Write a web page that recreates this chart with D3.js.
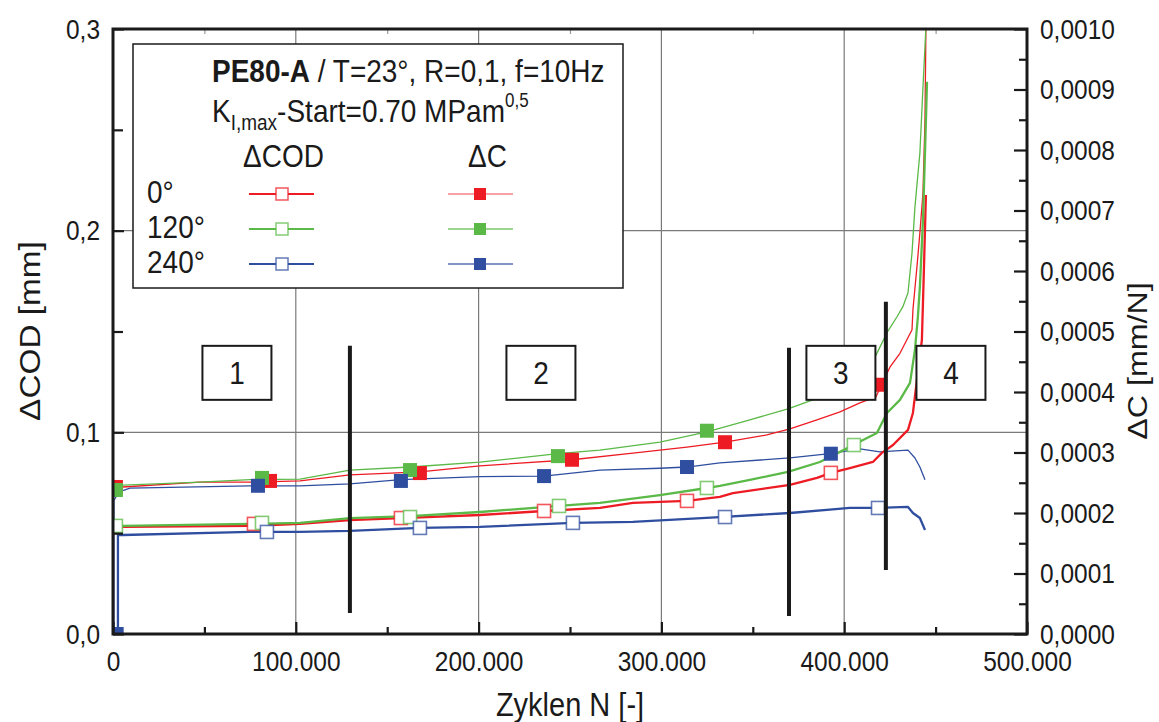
<!DOCTYPE html>
<html>
<head>
<meta charset="utf-8">
<script src="https://cdn.jsdelivr.net/npm/d3@7"></script>
<style>
  html, body { margin: 0; padding: 0; background: #ffffff; }
  svg { display: block; font-family: "Liberation Sans", Arial, Helvetica, sans-serif; }
</style>
</head>
<body>
<svg id="chart" width="1159" height="722"></svg>
<script>
// ---- measured curves: [cycles N, value] ----
// ΔCOD in mm (left axis)
const codRed = [
  [1600, 0.0526], [5500, 0.0531], [74900, 0.0536], [102300, 0.0546], [129600, 0.0565],
  [157500, 0.0575], [200700, 0.0590], [235800, 0.0610], [266400, 0.0625], [284400, 0.0650],
  [314000, 0.0660], [332000, 0.0680], [339100, 0.0699], [370300, 0.0739], [385100, 0.0774],
  [392700, 0.0799], [403100, 0.0823], [415700, 0.0853], [420600, 0.0898], [426700, 0.0937],
  [434900, 0.1012], [437600, 0.1096], [439800, 0.1260], [442500, 0.1458], [443600, 0.1805],
  [444700, 0.2177]
];
const codGreen = [
  [1600, 0.0531], [5500, 0.0536], [74900, 0.0546], [102300, 0.0551], [129600, 0.0575],
  [162500, 0.0585], [200700, 0.0605], [244000, 0.0635], [266400, 0.0650], [299200, 0.0689],
  [324900, 0.0724], [332000, 0.0734], [348400, 0.0764], [369200, 0.0804], [386700, 0.0853],
  [403100, 0.0928], [410300, 0.0962], [417900, 0.0997], [423400, 0.1096], [430500, 0.1161],
  [436000, 0.1245], [438700, 0.1409], [440300, 0.1572], [441400, 0.1721], [443100, 0.2053],
  [444200, 0.2386], [445300, 0.2738]
];
const codBlue = [
  [2700, 0.0], [2700, 0.0491], [5500, 0.0491], [74900, 0.0506], [102300, 0.0506],
  [129600, 0.0511], [167900, 0.0526], [200700, 0.0531], [251600, 0.0551], [284400, 0.0556],
  [332000, 0.0580], [370300, 0.0600], [403100, 0.0625], [418500, 0.0625], [434900, 0.0630],
  [437600, 0.0600], [441400, 0.0575], [444200, 0.0516]
];
// ΔC in mm/N (right axis)
const cRed = [
  [1600, 0.000243], [5500, 0.000243], [47600, 0.000251], [74900, 0.000251], [102300, 0.000253],
  [129600, 0.000263], [167900, 0.000268], [200700, 0.000278], [251100, 0.000288], [284400, 0.000299],
  [314000, 0.000309], [334800, 0.000317], [357700, 0.000329], [370300, 0.000339], [385100, 0.000354],
  [397700, 0.000367], [408600, 0.000382], [417400, 0.000392], [425000, 0.000441], [430500, 0.000464],
  [437100, 0.000503], [437600, 0.000536], [439800, 0.000607], [441400, 0.000663], [443100, 0.000729],
  [444200, 0.000850], [444700, 0.001003]
];
const cGreen = [
  [1600, 0.000241], [5500, 0.000246], [47600, 0.000251], [74900, 0.000255], [102300, 0.000256],
  [129600, 0.000271], [162500, 0.000276], [200700, 0.000284], [243400, 0.000298], [266400, 0.000304],
  [299200, 0.000317], [324900, 0.000334], [348400, 0.000354], [369200, 0.000372], [382900, 0.000387],
  [417400, 0.000461], [423400, 0.000498], [428800, 0.000524], [432100, 0.000541], [434900, 0.000564],
  [437100, 0.000630], [438700, 0.000706], [441400, 0.000795], [443100, 0.000904], [444700, 0.001003]
];
const cBlue = [
  [500, 0.0], [500, 0.000221], [3300, 0.000235], [9300, 0.000241], [74900, 0.000245],
  [102300, 0.000245], [129600, 0.000248], [157500, 0.000255], [200700, 0.000260], [235800, 0.000261],
  [266400, 0.000271], [299200, 0.000274], [314000, 0.000276], [332000, 0.000283], [370300, 0.000291],
  [392200, 0.000298], [408600, 0.000306], [419500, 0.000301], [423400, 0.000302], [434900, 0.000304],
  [438700, 0.000291], [441400, 0.000276], [444200, 0.000255]
];

// ---- symbol positions along each curve ----
const codRedMarks   = [[77100, 0.0546], [157500, 0.0575], [235800, 0.0610], [314000, 0.0660], [392700, 0.0799]];
const codGreenMarks = [[1600, 0.0536], [81500, 0.0551], [162500, 0.0580], [244000, 0.0635], [324900, 0.0724], [405300, 0.0937]];
const codBlueMarks  = [[84200, 0.0506], [167900, 0.0526], [251600, 0.0551], [334800, 0.0580], [418500, 0.0625]];
const cRedMarks     = [[1600, 0.000243], [85900, 0.000253], [167900, 0.000266], [251100, 0.000288], [334800, 0.000317], [419500, 0.000412]];
const cGreenMarks   = [[1600, 0.000238], [81500, 0.000258], [162500, 0.000271], [243400, 0.000294], [324900, 0.000336], [405300, 0.000436]];
const cBlueMarks    = [[2000, 0.0], [79300, 0.000245], [157500, 0.000253], [235800, 0.000261], [314000, 0.000276], [392700, 0.000298]];

// ---- stage separators and stage labels ----
const stageLines  = [[129600, 0.0104, 0.1429], [369800, 0.0089, 0.1419], [422800, 0.0317, 0.1647]];
const stageLabels = ["1", "2", "3", "4"];
const stageBoxN   = [67800, 234100, 398200, 458400];
const stageBoxCOD = 0.1295;

// ---- axes ----
const xTicks      = [0, 100000, 200000, 300000, 400000, 500000];
const xMinorTicks = [50000, 150000, 250000, 350000, 450000];
const yLTicks     = [0, 0.1, 0.2, 0.3];
const yLMinor     = [0.05, 0.15, 0.25];
const yRTicks     = [0, 0.0001, 0.0002, 0.0003, 0.0004, 0.0005, 0.0006, 0.0007, 0.0008, 0.0009, 0.001];
const yRMinor     = [0.00005, 0.00015, 0.00025, 0.00035, 0.00045, 0.00055, 0.00065, 0.00075, 0.00085, 0.00095];

const legendAngles = ["0°", "120°", "240°"];
const seriesColors = ["#ed1c24", "#5bb947", "#2f4e9f"];

// ---- layout ----
const W = 1159, H = 722;
const plot = { left: 113, right: 1027, top: 29, bottom: 634 };
const TALL = 1.15;            // glyphs are drawn slightly taller than wide
const INK = "#1a1a1a";

const svg = d3.select("#chart");
const x  = d3.scaleLinear().domain([0, 500000]).range([plot.left, plot.right]);
const yL = d3.scaleLinear().domain([0, 0.3]).range([plot.bottom, plot.top]);
const yR = d3.scaleLinear().domain([0, 0.001]).range([plot.bottom, plot.top]);

const loc = d3.formatLocale({ decimal: ",", thousands: ".", grouping: [3], currency: ["", ""] });

// horizontal text anchored at a baseline point, stretched vertically
function label(g, str, px, py, size, anchor) {
  return g.append("text").text(str)
    .attr("transform", `translate(${px},${py}) scale(1,${TALL})`)
    .attr("text-anchor", anchor || "start")
    .attr("font-size", size).attr("fill", INK);
}

svg.append("rect").attr("width", W).attr("height", H).attr("fill", "#fff");

svg.append("defs").append("clipPath").attr("id", "plotClip")
  .append("rect")
  .attr("x", plot.left).attr("y", plot.top)
  .attr("width", plot.right - plot.left).attr("height", plot.bottom - plot.top);

// grid
const grid = svg.append("g").attr("stroke", "#7a7a7a").attr("stroke-width", 1.2);
grid.selectAll("line.gx").data(xTicks.slice(1, -1)).join("line")
  .attr("x1", d => x(d)).attr("x2", d => x(d))
  .attr("y1", plot.top).attr("y2", plot.bottom);
grid.selectAll("line.gy").data([0.1, 0.2]).join("line")
  .attr("x1", plot.left).attr("x2", plot.right)
  .attr("y1", d => yL(d)).attr("y2", d => yL(d));

// curves
const curves = svg.append("g").attr("clip-path", "url(#plotClip)").attr("fill", "none")
  .attr("stroke-linejoin", "round");
const lineL = d3.line().x(d => x(d[0])).y(d => yL(d[1]));
const lineR = d3.line().x(d => x(d[0])).y(d => yR(d[1]));

[cRed, cGreen, cBlue].forEach((s, i) => {
  curves.append("path").attr("d", lineR(s)).attr("stroke", seriesColors[i]).attr("stroke-width", 1.3);
});
[codRed, codGreen, codBlue].forEach((s, i) => {
  curves.append("path").attr("d", lineL(s)).attr("stroke", seriesColors[i]).attr("stroke-width", 2.3);
});

// symbols
const sym = svg.append("g").attr("clip-path", "url(#plotClip)");
function hollow(g, data, scaleY, color) {
  g.selectAll(null).data(data).join("rect")
    .attr("x", d => x(d[0]) - 6.5).attr("y", d => scaleY(d[1]) - 6.5)
    .attr("width", 13).attr("height", 13)
    .attr("fill", "#fff").attr("stroke", color).attr("stroke-opacity", 0.75).attr("stroke-width", 1.6);
}
function filled(g, data, scaleY, color) {
  g.selectAll(null).data(data).join("rect")
    .attr("x", d => x(d[0]) - 7).attr("y", d => scaleY(d[1]) - 7)
    .attr("width", 14).attr("height", 14)
    .attr("fill", color);
}
hollow(sym.append("g"), codRedMarks, yL, seriesColors[0]);
hollow(sym.append("g"), codGreenMarks, yL, seriesColors[1]);
hollow(sym.append("g"), codBlueMarks, yL, seriesColors[2]);
filled(sym.append("g"), cRedMarks, yR, seriesColors[0]);
filled(sym.append("g"), cGreenMarks, yR, seriesColors[1]);
filled(sym.append("g"), cBlueMarks, yR, seriesColors[2]);

// stage separators
svg.append("g").selectAll("line").data(stageLines).join("line")
  .attr("x1", d => x(d[0])).attr("x2", d => x(d[0]))
  .attr("y1", d => yL(d[1])).attr("y2", d => yL(d[2]))
  .attr("stroke", INK).attr("stroke-width", 4);

// stage labels in boxes
const stg = svg.append("g").selectAll("g").data(stageLabels).join("g")
  .attr("transform", (d, i) => `translate(${x(stageBoxN[i])},${yL(stageBoxCOD)})`);
stg.append("rect").attr("x", -34.5).attr("y", -27).attr("width", 69).attr("height", 54)
  .attr("fill", "#fff").attr("stroke", INK).attr("stroke-width", 2);
stg.append("text").text(d => d).attr("text-anchor", "middle").attr("dy", "0.36em")
  .attr("transform", `scale(1,${TALL})`)
  .attr("font-size", 28).attr("fill", INK);

// axes
function styleAxis(g) {
  g.select(".domain").remove();
  g.selectAll(".tick line").attr("stroke", INK).attr("stroke-width", 2.2);
  g.selectAll(".tick text").attr("fill", INK).attr("font-size", 24.5)
    .attr("font-family", "'Liberation Sans', Arial, sans-serif")
    .attr("transform", `scale(1,${TALL})`);
}
svg.append("g").attr("transform", `translate(${plot.left},0)`)
  .call(d3.axisLeft(yL).tickValues(yLTicks).tickSize(-11).tickPadding(13).tickFormat(loc.format(".1f")))
  .call(styleAxis);
svg.append("g").attr("transform", `translate(${plot.left},0)`)
  .call(d3.axisLeft(yL).tickValues(yLMinor).tickSize(-10).tickFormat(""))
  .call(styleAxis);
svg.append("g").attr("transform", `translate(${plot.right},0)`)
  .call(d3.axisRight(yR).tickValues(yRTicks).tickSize(-13).tickPadding(13).tickFormat(loc.format(".4f")))
  .call(styleAxis);
svg.append("g").attr("transform", `translate(${plot.right},0)`)
  .call(d3.axisRight(yR).tickValues(yRMinor).tickSize(-8).tickFormat(""))
  .call(styleAxis);
svg.append("g").attr("transform", `translate(0,${plot.bottom})`)
  .call(d3.axisBottom(x).tickValues(xTicks).tickSize(-12).tickPadding(15).tickFormat(loc.format(",d")))
  .call(styleAxis);
svg.append("g").attr("transform", `translate(0,${plot.bottom})`)
  .call(d3.axisBottom(x).tickValues(xMinorTicks).tickSize(-7).tickFormat(""))
  .call(styleAxis);
svg.append("g").attr("transform", `translate(0,${plot.top})`)
  .call(d3.axisTop(x).tickValues(xMinorTicks).tickSize(-5).tickFormat(""))
  .call(g => { g.select(".domain").remove(); g.selectAll(".tick line").attr("stroke", "#999").attr("stroke-width", 1.2); });

// frame
svg.append("rect")
  .attr("x", plot.left).attr("y", plot.top)
  .attr("width", plot.right - plot.left).attr("height", plot.bottom - plot.top)
  .attr("fill", "none").attr("stroke", INK).attr("stroke-width", 3);

// axis titles
label(svg, "Zyklen N [-]", 570, 716, 29, "middle");
svg.append("text").text("ΔCOD [mm]")
  .attr("transform", `translate(40,331) rotate(-90) scale(${TALL},1)`)
  .attr("text-anchor", "middle").attr("font-size", 29).attr("fill", INK);
svg.append("text").text("ΔC [mm/N]")
  .attr("transform", `translate(1147,361) rotate(-90) scale(${TALL},1)`)
  .attr("text-anchor", "middle").attr("font-size", 28).attr("fill", INK);

// legend
const lg = svg.append("g");
lg.append("rect").attr("x", 133).attr("y", 44).attr("width", 490).attr("height", 244)
  .attr("fill", "#fff").attr("stroke", INK).attr("stroke-width", 1.5);
const t1 = label(lg, null, 212, 82, 28);
t1.append("tspan").attr("font-weight", "bold").text("PE80-A");
t1.append("tspan").text(" / T=23°, R=0,1, f=10Hz");
const t2 = label(lg, null, 212, 122, 28);
t2.append("tspan").text("K");
t2.append("tspan").attr("font-size", 19).attr("dy", 7).text("I,max");
t2.append("tspan").attr("dy", -7).text("-Start=0.70 MPam");
t2.append("tspan").attr("font-size", 17).attr("dy", -13).text("0,5");
label(lg, "ΔCOD", 243, 167, 28);
label(lg, "ΔC", 468, 167, 28);

const rowY = [194, 229, 264];
legendAngles.forEach((a, i) => {
  label(lg, a, 147, rowY[i] + 9, 28);
  lg.append("line").attr("x1", 249).attr("x2", 314).attr("y1", rowY[i]).attr("y2", rowY[i])
    .attr("stroke", seriesColors[i]).attr("stroke-width", 2.2);
  lg.append("rect").attr("x", 276).attr("y", rowY[i] - 6).attr("width", 12).attr("height", 12)
    .attr("fill", "#fff").attr("stroke", seriesColors[i]).attr("stroke-opacity", 0.75).attr("stroke-width", 1.5);
  lg.append("line").attr("x1", 448).attr("x2", 513).attr("y1", rowY[i]).attr("y2", rowY[i])
    .attr("stroke", seriesColors[i]).attr("stroke-opacity", i === 0 ? 0.55 : 0.8).attr("stroke-width", 1.4);
  lg.append("rect").attr("x", 474).attr("y", rowY[i] - 6).attr("width", 12).attr("height", 12)
    .attr("fill", seriesColors[i]);
});
</script>
</body>
</html>
